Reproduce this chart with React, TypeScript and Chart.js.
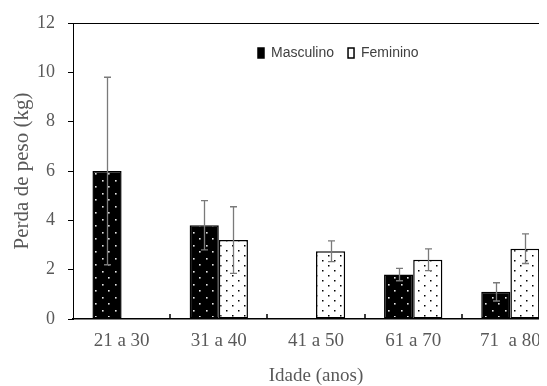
import { useEffect, useRef } from "react";
import { Chart, registerables } from "chart.js";

Chart.register(...registerables);

const categories = ["21 a 30", "31 a 40", "41 a 50", "61 a 70", "71  a 80"];
const seriesNames = ["Masculino", "Feminino"];
const masculino = [6.0, 3.8, null, 1.8, 1.1];
const masculinoErr = [3.8, 1.0, null, 0.25, 0.37];
const feminino = [null, 3.2, 2.75, 2.4, 2.85];
const femininoErr = [null, 1.35, 0.42, 0.44, 0.6];
const yTicks = [0, 2, 4, 6, 8, 10, 12];
const yTitle = "Perda de peso (kg)";
const xTitle = "Idade (anos)";

function makePattern(bg: string, dot: string, w: number, h: number, dots: number[][], size: number) {
  const c = document.createElement("canvas");
  c.width = w;
  c.height = h;
  const g = c.getContext("2d")!;
  g.fillStyle = bg;
  g.fillRect(0, 0, w, h);
  g.fillStyle = dot;
  dots.forEach(([x, y]) => g.fillRect(x, y, size, size));
  return g.createPattern(c, "repeat")!;
}

export default function App() {
  const ref = useRef<HTMLCanvasElement>(null);

  useEffect(() => {
    const canvas = ref.current!;
    const ctx = canvas.getContext("2d")!;
    const mascPat = makePattern("#000", "#e8e8e8", 13, 13, [[3, 3], [9, 9]], 1.6);
    const femPat = makePattern("#fff", "#000", 12, 10, [[2, 2], [8, 7]], 1.5);
    const errs = [masculinoErr, femininoErr];
    const legendFill = ["#000", "#fff"];

    const decor = {
      id: "decor",
      afterDatasetsDraw(chart: any) {
        const c = chart.ctx;
        const ca = chart.chartArea;
        const ys = chart.scales.y;
        const xs = chart.scales.x;
        c.save();
        // top border
        c.strokeStyle = "#000";
        c.lineWidth = 1;
        c.beginPath();
        c.moveTo(ca.left, ca.top + 0.5);
        c.lineTo(ca.right, ca.top + 0.5);
        c.moveTo(ca.right - 0.5, ca.top);
        c.lineTo(ca.right - 0.5, ca.bottom);
        c.stroke();
        // inward category separators on x axis
        c.lineWidth = 1.5;
        c.beginPath();
        for (let i = 1; i < categories.length; i++) {
          const x = Math.round((xs.getPixelForValue(i - 1) + xs.getPixelForValue(i)) / 2);
          c.moveTo(x, ca.bottom);
          c.lineTo(x, ca.bottom - 5);
        }
        c.stroke();
        // error bars
        c.strokeStyle = "#7a7a7a";
        c.lineWidth = 1.3;
        chart.data.datasets.forEach((ds: any, di: number) => {
          const meta = chart.getDatasetMeta(di);
          ds.data.forEach((v: number | null, j: number) => {
            const e = errs[di][j];
            if (v == null || e == null) return;
            const x = Math.round(meta.data[j].x) + 0.5;
            const yt = ys.getPixelForValue(v + e);
            const yb = ys.getPixelForValue(v - e);
            c.beginPath();
            c.moveTo(x, yt);
            c.lineTo(x, yb);
            c.moveTo(x - 3.5, yt);
            c.lineTo(x + 3.5, yt);
            c.moveTo(x - 3.5, yb);
            c.lineTo(x + 3.5, yb);
            c.stroke();
          });
        });
        // legend
        c.font = "14px 'Liberation Sans', Arial, sans-serif";
        c.textBaseline = "middle";
        c.textAlign = "left";
        let lx = ca.left + 185;
        const ly = ca.top + 30;
        seriesNames.forEach((name, i) => {
          c.fillStyle = legendFill[i];
          c.fillRect(lx, ly - 5, 6, 10);
          c.strokeStyle = "#000";
          c.lineWidth = 1.5;
          c.strokeRect(lx, ly - 5, 6, 10);
          c.fillStyle = "#404040";
          c.fillText(name, lx + 13, ly);
          lx += c.measureText(name).width + 13 + 14;
        });
        c.restore();
      },
    };

    const chart = new Chart(ctx, {
      type: "bar",
      data: {
        labels: categories,
        datasets: [
          {
            label: seriesNames[0],
            data: masculino,
            backgroundColor: mascPat,
            borderColor: "#000",
            borderWidth: 1.5,
            borderSkipped: false,
          },
          {
            label: seriesNames[1],
            data: feminino,
            backgroundColor: femPat,
            borderColor: "#000",
            borderWidth: 1.5,
            borderSkipped: false,
          },
        ],
      },
      options: {
        responsive: false,
        animation: false,
        events: [],
        layout: { padding: { top: 15, right: 2, left: 0, bottom: 0 } },
        datasets: { bar: { categoryPercentage: 0.6, barPercentage: 1.0 } },
        plugins: { legend: { display: false }, tooltip: { enabled: false } },
        scales: {
          x: {
            afterFit: (s: any) => {
              s.height = 67;
            },
            grid: { display: false, drawTicks: false },
            border: { display: true, color: "#000", width: 1.5 },
            ticks: {
              color: "#595959",
              padding: 11,
              font: { family: "'Liberation Serif', 'Times New Roman', serif", size: 19 },
            },
            title: {
              display: true,
              text: xTitle,
              color: "#595959",
              padding: 0,
              font: { family: "'Liberation Serif', 'Times New Roman', serif", size: 19, lineHeight: 1 },
            },
          },
          y: {
            min: 0,
            max: 12,
            afterFit: (s: any) => {
              s.width = 65;
              s.paddingTop = 0;
              s.paddingBottom = 0;
            },
            afterBuildTicks: (s: any) => {
              s.ticks = yTicks.map((v) => ({ value: v }));
            },
            grid: { drawOnChartArea: false, drawTicks: true, tickLength: 5, color: "#000", lineWidth: 1 },
            border: { display: true, color: "#000", width: 1 },
            ticks: {
              color: "#595959",
              padding: 13,
              font: { family: "'Liberation Serif', 'Times New Roman', serif", size: 18 },
            },
            title: {
              display: true,
              text: yTitle,
              color: "#595959",
              padding: { top: 4, bottom: 0 },
              font: { family: "'Liberation Serif', 'Times New Roman', serif", size: 21, lineHeight: 1 },
            },
          },
        },
      },
      plugins: [decor],
    });
    return () => chart.destroy();
  }, []);

  return (
    <div style={{ width: 539, height: 378, overflow: "hidden" }}>
      <canvas ref={ref} width={553} height={378} style={{ display: "block" }} />
    </div>
  );
}
